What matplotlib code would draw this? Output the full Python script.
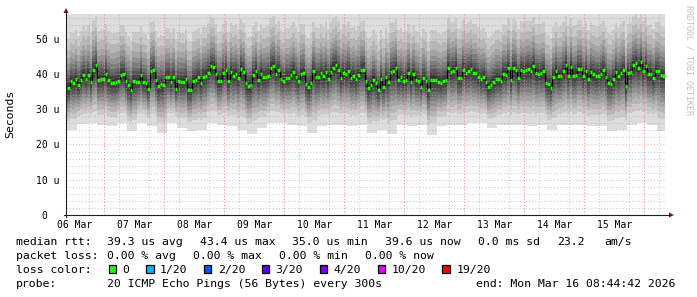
import datetime as dt
import numpy as np
import matplotlib
matplotlib.use("Agg")
import matplotlib.pyplot as plt
from matplotlib.patches import Polygon, Rectangle
from matplotlib.lines import Line2D
from matplotlib.ticker import FixedLocator, MultipleLocator
import matplotlib.dates as mdates

## data (microseconds, 1 value per hour)

end_time = dt.datetime(2026, 3, 16, 8, 44, 42)
start_time = end_time - dt.timedelta(days=10)

median_us = [
    35.9, 37.9, 37.5, 38.5, 36.8, 38.2, 39.7, 38.6, 39.8, 37.6,
    41.2, 42.4, 38.2, 38.7, 38.5, 40.1, 38.2, 37.5, 37.5, 37.6,
    37.9, 39.8, 39.9, 37.9, 36.8, 35.4, 38.0, 37.8, 37.8, 39.6,
    37.6, 37.3, 35.6, 40.7, 41.0, 38.2, 36.6, 37.1, 36.8, 39.0,
    39.0, 37.7, 39.0, 35.7, 38.0, 37.7, 37.7, 38.6, 35.4, 35.4,
    38.0, 38.4, 39.0, 37.3, 39.2, 39.3, 40.4, 42.2, 42.0, 40.1,
    37.9,
    38.1, 40.3, 41.0, 38.0, 40.5, 39.5, 40.1, 38.8, 41.5, 40.5,
    37.5, 36.5, 36.8, 39.6, 40.7, 38.2, 40.1, 39.0, 39.2, 39.5,
    41.8, 42.3, 40.1, 41.0, 38.7, 37.9, 38.9, 38.9, 39.6, 40.6,
    39.2, 38.0, 40.1, 40.3, 37.1, 36.3, 37.5, 40.8, 39.2, 39.0,
    40.3, 39.3, 40.6, 38.7, 40.6, 41.8, 42.5, 41.0, 38.8, 40.3,
    39.9, 40.8, 38.9, 39.3, 38.6, 39.6, 41.0, 41.2, 38.0, 36.1,
    36.8, 38.4, 37.3, 35.4, 38.5, 36.3, 39.0, 37.7, 40.5, 40.8,
    41.6, 38.4, 39.0, 38.0, 38.2, 40.3, 37.7, 39.9, 38.2, 37.9,
    36.4, 38.8, 38.0, 35.4, 38.4, 38.4, 38.4, 37.7, 37.3, 38.0,
    38.2, 41.8, 40.5, 40.8, 41.8, 38.8, 38.8, 41.2, 40.3, 40.7,
    41.4, 40.3, 40.3, 39.2, 38.6, 39.0, 37.8, 36.2, 36.9, 37.6,
    38.5, 38.5, 38.0, 40.1, 39.8, 41.6, 38.2, 41.6, 41.0, 38.8,
    41.0, 40.7, 41.0, 41.3, 40.9, 42.2, 40.3, 40.1, 40.3, 40.7,
    37.5, 37.1, 36.1, 39.2, 40.8, 39.3, 39.5, 40.8, 42.4, 39.5,
    42.0, 39.5, 39.8, 41.4, 41.4, 39.3, 40.8, 38.6, 40.5, 39.9,
    39.3, 39.5, 40.1, 41.0, 39.2, 37.5, 37.1, 38.6, 40.5, 39.3,
    40.3, 41.0, 36.5, 40.3, 40.5, 42.5, 43.2, 41.8, 43.3, 40.9,
    42.2, 40.0, 40.1, 38.8, 40.8, 40.7, 39.7, 39.4,
]

# lowest ping, one value per 4 hours
min_ping_us = [
    24.2, 25.7, 26.0, 25.6, 25.1, 26.0, 23.7, 26.0, 25.1, 23.2,
    26.0, 24.6, 23.7, 24.2, 26.0, 25.6, 25.1, 24.2, 22.9, 24.6,
    26.0, 26.0, 25.6, 25.1, 23.2, 25.1, 25.6, 25.6, 25.1, 25.6,
    23.2, 24.2, 22.9, 25.6, 25.1, 25.6, 22.7, 25.1, 25.6, 25.6,
    26.0, 26.0, 24.6, 25.6, 25.6, 25.6, 25.1, 25.6, 24.2, 25.6,
    25.6, 25.6, 25.1, 25.1, 23.7, 24.2, 25.6, 26.0, 25.6, 23.7,
]

# typical spread of the 20 pings around the median
lower_rank_frac = [0.0, 0.22, 0.34, 0.44, 0.53, 0.61, 0.69, 0.77, 0.85, 0.93]
upper_rank_off = [25.0, 14.0, 11.0, 8.5, 6.8, 5.3, 4.0, 2.9, 1.8, 0.9]

ytick_vals = [0, 10, 20, 30, 40, 50]
ytick_labels = ["0  ", "10 u", "20 u", "30 u", "40 u", "50 u"]
day_labels = ["06 Mar", "07 Mar", "08 Mar", "09 Mar", "10 Mar",
              "11 Mar", "12 Mar", "13 Mar", "14 Mar", "15 Mar"]

loss_labels = ["0", "1/20", "2/20", "3/20", "4/20", "10/20", "19/20"]
loss_colors = ["#26ff00", "#00b8ff", "#0059ff", "#5e00ff", "#7e00ff", "#dd00ff", "#ff0000"]


## figure

W, H = 697, 297
MONO = "DejaVu Sans Mono"
plt.rcParams["font.family"] = MONO

fig = plt.figure(figsize=(W / 100, H / 100), dpi=100, facecolor="white")
ax = fig.add_axes([66 / W, 1 - 215 / H, 600 / W, 201 / H])
ax.set_facecolor("white")

def fx(x):
    return x / W

def fy(y):
    return 1 - y / H

med = np.array(median_us)
n = len(med)
floor = np.repeat(min_ping_us, 4)[:n]
hours = [start_time + dt.timedelta(hours=i + 0.5) for i in range(n + 1)]
edges = mdates.date2num(hours)

# smoke: 10 nested bands, lighter outside, darker towards the median
for i in range(10):
    lo = floor + (med - floor) * lower_rank_frac[i]
    hi = med + upper_rank_off[i]
    g = int(190 / 10 * (10 - (i + 1))) + 50
    ax.stairs(hi, edges, baseline=lo, fill=True, color="#%02x%02x%02x" % (g, g, g),
              lw=0, zorder=1)

# median
ax.stairs(med, edges, baseline=None, color="black", lw=0.8, zorder=4)
ax.hlines(med, edges[:-1], edges[1:], colors=loss_colors[0], lw=2.5, zorder=5,
          capstyle="butt")

ax.set_xlim(mdates.date2num(start_time), mdates.date2num(end_time))
ax.set_ylim(0, 57)

# grid
noon = [dt.datetime(2026, 3, 6 + k, 12) for k in range(len(day_labels))]
ax.xaxis.set_major_locator(FixedLocator(mdates.date2num(noon)))
ax.set_xticklabels(day_labels)
ax.xaxis.set_minor_locator(mdates.HourLocator(byhour=[0, 6, 12, 18]))
ax.yaxis.set_major_locator(FixedLocator(ytick_vals))
ax.set_yticklabels(ytick_labels)
ax.yaxis.set_minor_locator(MultipleLocator(2))

ax.grid(which="minor", color="#a8a8a8", alpha=0.6, lw=0.75, ls=(0, (1, 2)), zorder=3)
ax.set_axisbelow(False)
for k in range(1, 11):
    ax.axvline(mdates.date2num(dt.datetime(2026, 3, 6 + k)), color="#ff8080",
               alpha=0.6, lw=0.75, ls=(0, (1, 2)), zorder=3)
for v in ytick_vals[1:]:
    ax.axhline(v, color="#ff8080", alpha=0.6, lw=0.75, ls=(0, (1, 2)), zorder=3)

ax.tick_params(which="both", length=0)
ax.tick_params(axis="y", pad=4.6, labelsize=7)
ax.tick_params(axis="x", pad=3.6, labelsize=7)
for s in ax.spines.values():
    s.set_visible(False)

# axes with arrows
fig.add_artist(Line2D([fx(66), fx(66)], [fy(217), fy(12)], color="#202020", lw=0.8))
fig.add_artist(Line2D([fx(64), fx(670)], [fy(215), fy(215)], color="#202020", lw=0.8))
fig.add_artist(Polygon([(fx(63.5), fy(13)), (fx(68.5), fy(13)), (fx(66), fy(8))],
                       closed=True, color="#8b1010", lw=0))
fig.add_artist(Polygon([(fx(669), fy(212.5)), (fx(669), fy(217.5)), (fx(674), fy(215))],
                       closed=True, color="#8b1010", lw=0))

fig.text(fx(10.5), fy(113.5), "Seconds", rotation=90, ha="center", va="center", fontsize=8.25)
fig.text(fx(688.5), fy(60), "RRDTOOL / TOBI OETIKER", rotation=270, ha="center",
         va="center", fontsize=6, color="#c0c0c0")

## legend

fs = 8.25
rows = [
    (245.3, [(16, "median rtt:"), (107.3, "39.3 us avg"), (200, "43.4 us max"),
             (292.5, "35.0 us min"), (385, "39.6 us now"), (478, "0.0 ms sd"),
             (557, "23.2"), (604, "am/s")]),
    (259.3, [(16, "packet loss:"), (107.3, "0.00 % avg"), (193.3, "0.00 % max"),
             (279.3, "0.00 % min"), (365.3, "0.00 % now")]),
    (272.8, [(16, "loss color:")]),
    (287.3, [(16, "probe:"), (107.3, "20 ICMP Echo Pings (56 Bytes) every 300s"),
             (476, "end: Mon Mar 16 08:44:42 2026")]),
]
for y, items in rows:
    for x, t in items:
        fig.text(fx(x), fy(y), t, ha="left", va="baseline", fontsize=fs)

x = 108.7
for lab, col in zip(loss_labels, loss_colors):
    fig.add_artist(Rectangle((fx(x), fy(272.5)), 7.6 / W, 7.6 / H, facecolor=col,
                             edgecolor="black", lw=0.9))
    fig.text(fx(x + 14), fy(272.8), lab, ha="left", va="baseline", fontsize=fs)
    x += 14 + len(lab) * 6.9 + 16.3

fig.savefig("out.png", dpi=100, facecolor="white")
